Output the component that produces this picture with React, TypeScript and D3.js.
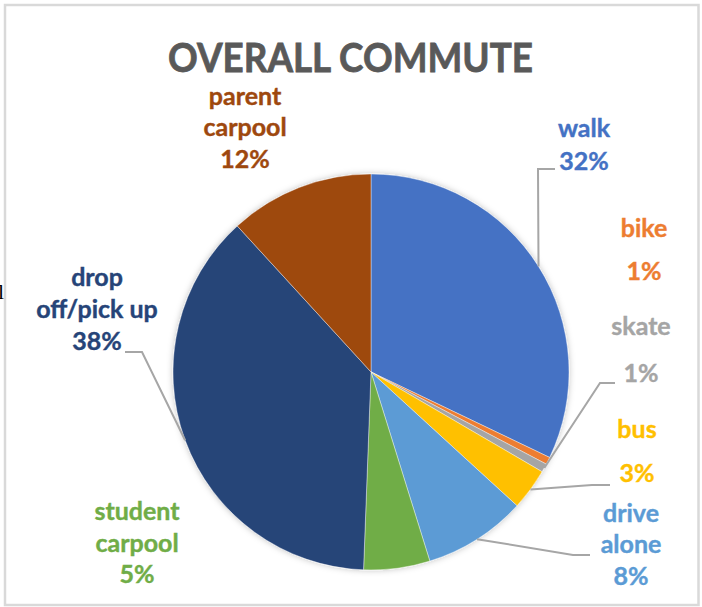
import React from "react";
import * as d3 from "d3";

const categories = ["walk", "bike", "skate", "bus", "drive alone", "student carpool", "drop off/pick up", "parent carpool"];
const values = [32.1, 0.6, 0.7, 3.4, 8.4, 5.4, 37.6, 11.8];
const percentLabels = ["32%", "1%", "1%", "3%", "8%", "5%", "38%", "12%"];
const labelLines = [
  ["walk"],
  ["bike"],
  ["skate"],
  ["bus"],
  ["drive", "alone"],
  ["student", "carpool"],
  ["drop", "off/pick up"],
  ["parent", "carpool"],
];
const colors = ["#4472C4", "#ED7D31", "#A5A5A5", "#FFC000", "#5B9BD5", "#70AD47", "#264478", "#9E480E"];

// layout (positions only)
const W = 702, H = 607;
const cx = 371, cy = 372, R = 198;
const labelLayout = [
  { x: 584, ys: [137, 170] },
  { x: 644, ys: [237, 280] },
  { x: 641, ys: [335, 382] },
  { x: 637, ys: [438, 482] },
  { x: 631, ys: [522, 553, 585] },
  { x: 137, ys: [520, 552, 583] },
  { x: 97, ys: [286, 318, 350] },
  { x: 245, ys: [105, 136, 168] },
];
const leaders: (null | [number, number][])[] = [
  [[538, 169], [555, 169]],
  null,
  [[600, 383], [615, 383]],
  [[592, 485], [610, 485]],
  [[573, 555], [590, 555]],
  null,
  [[142, 352], [125, 352]],
  null,
];

export default function App() {
  const pie = d3.pie<number>().sort(null).value((d) => d);
  const arcs = pie(values);
  const arc = d3.arc<d3.PieArcDatum<number>>().innerRadius(0).outerRadius(R);
  const font = "Lato, Carlito, 'Open Sans', sans-serif";

  return (
    <svg
      width={W}
      height={H}
      style={{ position: "absolute", left: 0, top: 0, background: "#fff" }}
    >
      <defs>
        <filter id="sh" x="-20%" y="-20%" width="140%" height="140%">
          <feDropShadow dx="0" dy="0" stdDeviation="3" floodColor="#000" floodOpacity="0.25" />
        </filter>
      </defs>
      <rect x={0} y={0} width={W} height={H} fill="#fff" />
      <text x={-2} y={299} fontFamily="'Liberation Serif', serif" fontSize={22} fill="#000">l</text>
      <rect x={5} y={5} width={693.5} height={600} fill="#fff" stroke="#d9d9d9" strokeWidth={2.5} />
      <text
        x={168}
        y={72}
        fontFamily={font}
        fontWeight={700}
        fontSize={41}
        fill="#595959"
        stroke="#595959"
        strokeWidth={0.8}
        textLength={365}
        lengthAdjust="spacingAndGlyphs"
      >
        OVERALL COMMUTE
      </text>
      <g transform={`translate(${cx},${cy})`} filter="url(#sh)">
        {arcs.map((a, i) => (
          <path key={i} d={arc(a) || ""} fill={colors[i]} stroke="#fff" strokeWidth={0.4} />
        ))}
      </g>
      {arcs.map((a, i) => {
        const lp = leaders[i];
        if (!lp) return null;
        const mid = (a.startAngle + a.endAngle) / 2;
        const sx = cx + R * Math.sin(mid);
        const sy = cy - R * Math.cos(mid);
        const pts: [number, number][] = [[sx, sy], ...lp];
        return (
          <path
            key={"l" + i}
            d={d3.line()(pts) || ""}
            fill="none"
            stroke="#A6A6A6"
            strokeWidth={2}
          />
        );
      })}
      {categories.map((c, i) => {
        const L = labelLayout[i];
        const lines = [...labelLines[i], percentLabels[i]];
        return (
          <text
            key={"t" + c}
            textAnchor="middle"
            fontFamily={font}
            fontWeight={700}
            fontSize={25}
            fill={colors[i]}
            stroke={colors[i]}
            strokeWidth={0.4}
          >
            {lines.map((t, j) => (
              <tspan key={j} x={L.x} y={L.ys[j]}>
                {t}
              </tspan>
            ))}
          </text>
        );
      })}
    </svg>
  );
}
